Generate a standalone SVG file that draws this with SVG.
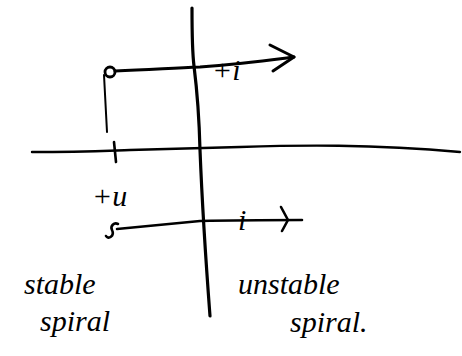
<svg xmlns="http://www.w3.org/2000/svg" width="462" height="356" viewBox="0 0 462 356">
<style>
.s{fill:none;stroke:#000;stroke-width:2.6;stroke-linecap:round;stroke-linejoin:round}
.t{font-family:"Liberation Serif",serif;font-style:italic;fill:#000}
</style>
<rect width="462" height="356" fill="#fff"/>
<g id="axes">
<path class="s" d="M192,8 C192,40 193,58 194,66 C197,90 199,110 200,150 C202,200 205,250 210,316" style="stroke-width:3.2"/>
<path class="s" d="M32,152 C80,152 100,151 130,150 C170,149 200,148 240,147 C300,145 370,144 460,152" style="stroke-width:2.4"/>
<path class="s" d="M114,142 L116,162"/>
</g>
<g id="upper-path">
<circle class="s" cx="110" cy="72" r="5" style="stroke-width:2.8"/>
<path class="s" d="M115,71 C150,70 170,68 200,67 C240,64 270,60 294,57" style="stroke-width:3"/>
<path class="s" d="M270,45 L294,57 L273,71" style="stroke-width:3"/>
<path class="s" d="M104,75 L107,132" style="stroke-width:2"/>
<text class="t" x="212" y="80" font-size="30">+i</text>
</g>
<g id="lower-path">
<path class="s" d="M118,224 C114,222 110,226 112,230 C115,236 108,240 106,236" style="stroke-width:2.6"/>
<path class="s" d="M117,229 C150,226 180,223 200,221 C240,220 270,220 302,220" style="stroke-width:2.6"/>
<path class="s" d="M281,207 L288,220 L282,231" style="stroke-width:2.6"/>
<text class="t" x="92" y="206" font-size="30">+u</text>
<text class="t" x="238" y="230" font-size="30">i</text>
</g>
<g id="labels">
<text class="t" x="24" y="294" font-size="30">stable</text>
<text class="t" x="40" y="331" font-size="30">spiral</text>
<text class="t" x="238" y="294" font-size="30">unstable</text>
<text class="t" x="290" y="332" font-size="30">spiral.</text>
</g>
</svg>
